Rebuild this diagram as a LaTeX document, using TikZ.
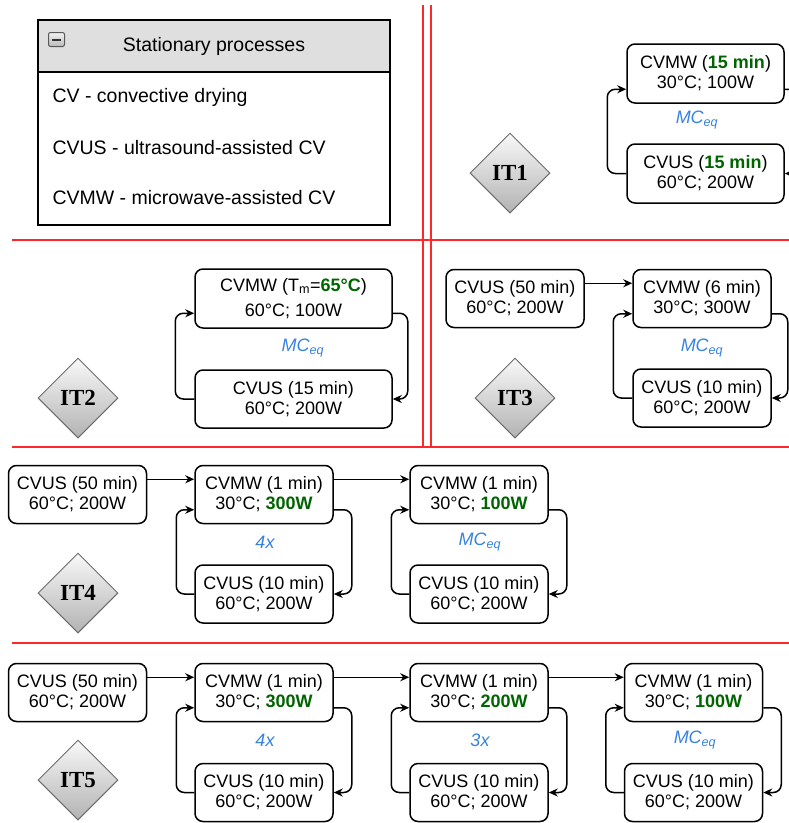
\documentclass[tikz,border=0pt]{standalone}
\usepackage{fontspec}
\setmainfont{Liberation Sans}
\newfontfamily\itserif{Liberation Serif}
\usetikzlibrary{shapes.geometric,arrows.meta}
\definecolor{sepred}{RGB}{255,40,40}
\definecolor{valgreen}{RGB}{0,100,0}
\definecolor{loopblue}{RGB}{55,130,225}
\newcommand{\hl}[1]{\textbf{\color{valgreen}#1}}
\newcommand{\mceq}{MC\textsubscript{eq}}

\begin{document}
\begin{tikzpicture}[x=1pt,y=-1pt,
  procbox/.style={draw, line width=1.5pt, rounded corners=8pt, minimum width=138pt, minimum height=58pt, align=center, inner sep=0pt, font=\fontsize{18}{20}\selectfont},
  itmark/.style={diamond, draw=gray!85!black, line width=1pt, top color=gray!5, bottom color=gray!60, minimum size=80pt, inner sep=0pt, font=\itserif\bfseries\fontsize{23}{23}\selectfont},
  flow/.style={line width=1.5pt, -{Stealth[length=9pt,width=8pt]}},
  loopback/.style={flow, rounded corners=8pt},
  reps/.style={font=\itshape\fontsize{18}{20}\selectfont, text=loopblue},
  legend/.style={anchor=west, font=\fontsize{19.5}{22}\selectfont},
  redline/.style={sepred, line width=1.7pt}]
  \useasboundingbox (0,0) rectangle (789,823);
  \clip (0,0) rectangle (789,823);

  \draw[redline] (12,240) -- (789,240);
  \draw[redline] (12,447) -- (789,447);
  \draw[redline] (12,643) -- (789,643);
  \draw[redline] (423,5) -- (423,447);
  \draw[redline] (431,5) -- (431,447);

  \draw[line width=1.8pt, fill=gray!25] (38,20) rectangle (390,72);
  \draw[line width=1.8pt] (38,72) rectangle (390,225);
  \draw[gray!70!black, line width=1pt, rounded corners=2pt, top color=gray!10, bottom color=gray!55] (48.5,32.5) rectangle (64.5,46.5);
  \draw[black!80, line width=2pt] (52,39.5) -- (61,39.5);
  \node[font=\fontsize{19.5}{22}\selectfont] (head) at (214,46.5) {Stationary processes};
  \node[legend] (lcv) at (49,97) {CV - convective drying};
  \node[legend] (lus) at (49,148) {CVUS - ultrasound-assisted CV};
  \node[legend] (lmw) at (49,198) {CVMW - microwave-assisted CV};

  \node[itmark] (it1) at (510,173) {IT1};
  \node[procbox, minimum width=157pt, minimum height=59pt] (mw1) at (705.5,73.5) {CVMW (\hl{15 min})\\30°C; 100W};
  \node[procbox, minimum width=157pt, minimum height=59pt] (us1) at (705.5,173.5) {CVUS (\hl{15 min})\\60°C; 200W};
  \node[reps] (rep1) at (697,120) {\mceq};
  \draw[loopback] (us1.west) -- ++(-19,0) |- ([yshift=14.5pt]mw1.south west);
  \draw[loopback] ([yshift=14.5pt]mw1.south east) -- ++(19,0) |- (us1.east);

  \node[itmark] (it2) at (78,398) {IT2};
  \node[procbox, minimum width=197pt, minimum height=59pt] (mw2) at (293.5,298.5) {CVMW (T\textsubscript{m}=\hl{65°C})\\[5pt]60°C; 100W};
  \node[procbox, minimum width=197pt] (us2) at (293.5,399) {CVUS (15 min)\\60°C; 200W};
  \node[reps] (rep2) at (303,348) {\mceq};
  \draw[loopback] (us2.west) -- ++(-19,0) |- ([yshift=15.5pt]mw2.south west);
  \draw[loopback] ([yshift=15.5pt]mw2.south east) -- ++(15,0) |- (us2.east);

  \node[itmark] (it3) at (515,398) {IT3};
  \node[procbox] (pre3) at (515,298.5) {CVUS (50 min)\\60°C; 200W};
  \node[procbox] (mw3) at (702,298.5) {CVMW (6 min)\\30°C; 300W};
  \node[procbox] (us3) at (702,398) {CVUS (10 min)\\60°C; 200W};
  \node[reps] (rep3) at (702,348) {\mceq};
  \draw[flow] ([yshift=-14.5pt]pre3.north east) -- ([yshift=-14.5pt]mw3.north west);
  \draw[loopback] (us3.west) -- ++(-19,0) |- ([yshift=14.5pt]mw3.south west);
  \draw[loopback] ([yshift=14.5pt]mw3.south east) -- ++(16,0) |- (us3.east);

  \node[itmark] (it4) at (78,593) {IT4};
  \node[procbox] (pre4) at (77.5,494.5) {CVUS (50 min)\\60°C; 200W};
  \node[procbox] (mwa4) at (264,494.5) {CVMW (1 min)\\30°C; \hl{300W}};
  \node[procbox] (usa4) at (264,594) {CVUS (10 min)\\60°C; 200W};
  \node[procbox] (mwb4) at (479,494.5) {CVMW (1 min)\\30°C; \hl{100W}};
  \node[procbox] (usb4) at (479,594) {CVUS (10 min)\\60°C; 200W};
  \node[reps] (repa4) at (265,542) {4x};
  \node[reps] (repb4) at (480,542) {\mceq};
  \draw[flow] ([yshift=-14.5pt]pre4.north east) -- ([yshift=-14.5pt]mwa4.north west);
  \draw[flow] ([yshift=-14.5pt]mwa4.north east) -- ([yshift=-14.5pt]mwb4.north west);
  \draw[loopback] (usa4.west) -- ++(-18,0) |- ([yshift=14.5pt]mwa4.south west);
  \draw[loopback] ([yshift=14.5pt]mwa4.south east) -- ++(18,0) |- (usa4.east);
  \draw[loopback] (usb4.west) -- ++(-18,0) |- ([yshift=14.5pt]mwb4.south west);
  \draw[loopback] ([yshift=14.5pt]mwb4.south east) -- ++(18,0) |- (usb4.east);

  \node[itmark] (it5) at (78,780) {IT5};
  \node[procbox] (pre5) at (77.5,692.5) {CVUS (50 min)\\60°C; 200W};
  \node[procbox] (mwa5) at (264,692.5) {CVMW (1 min)\\30°C; \hl{300W}};
  \node[procbox] (usa5) at (264,792.5) {CVUS (10 min)\\60°C; 200W};
  \node[procbox] (mwb5) at (479,692.5) {CVMW (1 min)\\30°C; \hl{200W}};
  \node[procbox] (usb5) at (479,792.5) {CVUS (10 min)\\60°C; 200W};
  \node[procbox] (mwc5) at (693.5,692.5) {CVMW (1 min)\\30°C; \hl{100W}};
  \node[procbox] (usc5) at (693.5,792.5) {CVUS (10 min)\\60°C; 200W};
  \node[reps] (repa5) at (265,740) {4x};
  \node[reps] (repb5) at (480,740) {3x};
  \node[reps] (repc5) at (695,740) {\mceq};
  \draw[flow] ([yshift=-14.5pt]pre5.north east) -- ([yshift=-14.5pt]mwa5.north west);
  \draw[flow] ([yshift=-14.5pt]mwa5.north east) -- ([yshift=-14.5pt]mwb5.north west);
  \draw[flow] ([yshift=-14.5pt]mwb5.north east) -- ([yshift=-14.5pt]mwc5.north west);
  \draw[loopback] (usa5.west) -- ++(-18,0) |- ([yshift=14.5pt]mwa5.south west);
  \draw[loopback] ([yshift=14.5pt]mwa5.south east) -- ++(18,0) |- (usa5.east);
  \draw[loopback] (usb5.west) -- ++(-18,0) |- ([yshift=14.5pt]mwb5.south west);
  \draw[loopback] ([yshift=14.5pt]mwb5.south east) -- ++(18,0) |- (usb5.east);
  \draw[loopback] (usc5.west) -- ++(-18,0) |- ([yshift=14.5pt]mwc5.south west);
  \draw[loopback] ([yshift=14.5pt]mwc5.south east) -- ++(18,0) |- (usc5.east);
\end{tikzpicture}
\end{document}
